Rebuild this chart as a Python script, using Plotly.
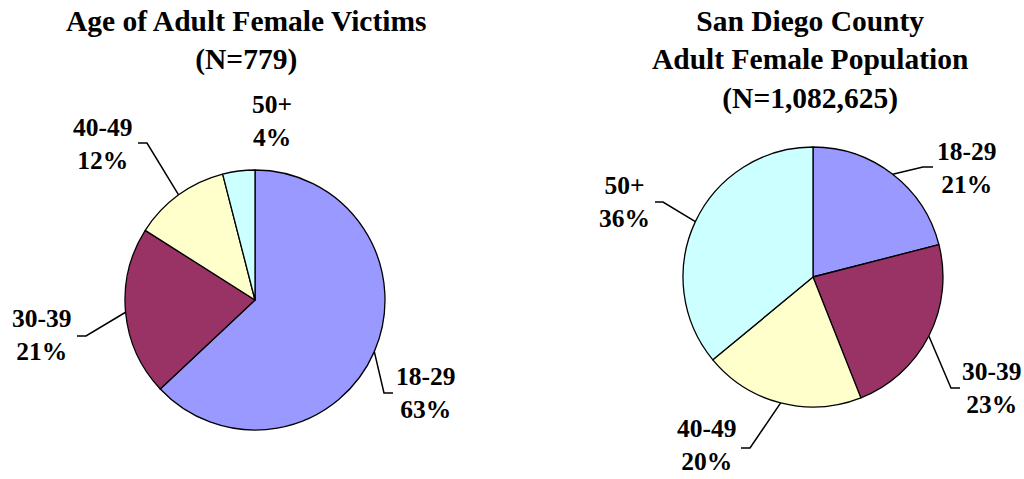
import math
import plotly.graph_objects as go

# ---- data ----
age_groups = ["18-29", "30-39", "40-49", "50+"]
victims_pct = [63, 21, 12, 4]
population_pct = [21, 23, 20, 36]
slice_colors = ["#9999FF", "#993366", "#FFFFCC", "#CCFFFF"]

left_title = "Age of Adult Female Victims<br>(N=779)"
right_title = "San Diego County<br>Adult Female Population<br>(N=1,082,625)"

# ---- layout constants (pixels) ----
W, H = 1024, 479
FONT = "Liberation Serif"
pies = [
    dict(values=victims_pct, cx=255, cy=300, r=130, title=left_title, tx=246, ty=41,
         # per-label: text centre, leader elbow, leader end (None = no leader)
         labels=[
             dict(t=(426, 392.5), elbow=(384, 393), end=(393, 393)),
             dict(t=(42, 335), elbow=(86, 336), end=(77, 336)),
             dict(t=(103, 144), elbow=(147, 143), end=(138, 143)),
             dict(t=(272, 121), elbow=None, end=None),
         ]),
    dict(values=population_pct, cx=813, cy=277, r=130, title=right_title, tx=810, ty=60,
         labels=[
             dict(t=(967, 167.5), elbow=(923, 167), end=(933, 167)),
             dict(t=(992, 387.5), elbow=(951, 388), end=(960, 388)),
             dict(t=(707, 445), elbow=(750, 448), end=(741, 448)),
             dict(t=(624.5, 202.5), elbow=(663, 202), end=(655, 202)),
         ]),
]


def px(x):
    return x / W


def py(y):
    return 1 - y / H


fig = go.Figure()
annotations = []
shapes = []

for p in pies:
    cx, cy, r = p["cx"], p["cy"], p["r"]
    fig.add_trace(go.Pie(
        labels=age_groups,
        values=p["values"],
        sort=False,
        direction="clockwise",
        rotation=0,
        textinfo="none",
        hoverinfo="label+percent",
        marker=dict(colors=slice_colors, line=dict(color="black", width=1.3)),
        domain=dict(x=[px(cx - r), px(cx + r)], y=[py(cy + r), py(cy - r)]),
        showlegend=False,
    ))
    annotations.append(dict(
        x=px(p["tx"]), y=py(p["ty"]), xref="paper", yref="paper",
        text=p["title"], showarrow=False, xanchor="center", yanchor="middle",
        font=dict(family=FONT, size=29.5, color="black", weight="bold"),
    ))
    total = sum(p["values"])
    cum = 0
    for grp, val, lab in zip(age_groups, p["values"], p["labels"]):
        mid = (cum + val / 2) / total * 2 * math.pi
        cum += val
        annotations.append(dict(
            x=px(lab["t"][0]), y=py(lab["t"][1]), xref="paper", yref="paper",
            text=f"{grp}<br>{round(val / total * 100)}%", showarrow=False,
            xanchor="center", yanchor="middle",
            font=dict(family=FONT, size=25.5, color="black", weight="bold"),
        ))
        if lab["elbow"] is not None:
            ex0 = cx + r * math.sin(mid)
            ey0 = cy - r * math.cos(mid)
            (ex1, ey1), (ex2, ey2) = lab["elbow"], lab["end"]
            shapes.append(dict(
                type="path", xref="paper", yref="paper",
                path=f"M {px(ex0)},{py(ey0)} L {px(ex1)},{py(ey1)} L {px(ex2)},{py(ey2)}",
                line=dict(color="black", width=1.5),
            ))

fig.update_layout(
    width=W, height=H,
    margin=dict(l=0, r=0, t=0, b=0),
    paper_bgcolor="white", plot_bgcolor="white",
    annotations=annotations, shapes=shapes,
)

fig.write_html(
    "out.html",
    config={"displayModeBar": False},
    post_script="document.body.style.margin='0';document.body.style.overflow='hidden';",
)
